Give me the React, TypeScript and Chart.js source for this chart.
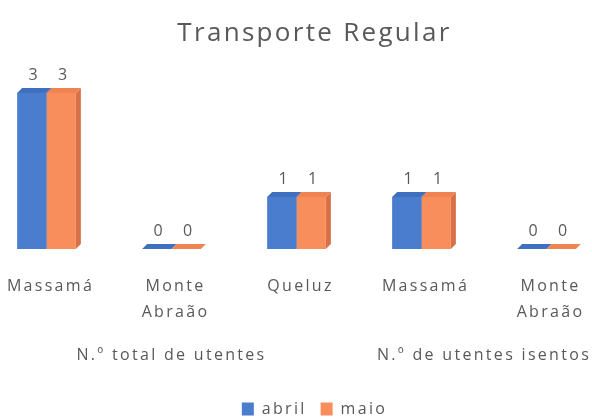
import { useEffect, useRef } from 'react';
import { Chart, registerables } from 'chart.js';

Chart.register(...registerables);

const TITLE = 'Transporte Regular';
const categories: string[][] = [['Massamá'], ['Monte', 'Abraão'], ['Queluz'], ['Massamá'], ['Monte', 'Abraão']];
const groupNames = ['N.º total de utentes', 'N.º de utentes isentos'];
const groupFirst = [0, 3];
const groupLast = [2, 4];
const seriesNames = ['abril', 'maio'];
const abril = [3, 0, 1, 1, 0];
const maio = [3, 0, 1, 1, 0];

const FONT = '"Open Sans", "DejaVu Sans", sans-serif';
const TEXT = '#595959';
const FRONT = ['#4a7dcd', '#f98e5d'];
const TOP = ['#3f70c0', '#f08352'];
const SIDE = ['#34609f', '#d8704a'];
const D = 5;
const SPACING = '2.3px';

const depthPlugin = {
  id: 'depth3d',
  beforeInit(chart: any) {
    chart.ctx.letterSpacing = SPACING;
  },
  beforeUpdate(chart: any) {
    chart.ctx.letterSpacing = SPACING;
  },
  beforeDraw(chart: any) {
    chart.ctx.letterSpacing = SPACING;
  },
  beforeDatasetsDraw(chart: any) {
    const ctx = chart.ctx;
    const n = chart.data.labels.length;
    ctx.save();
    for (let i = 0; i < n; i++) {
      chart.data.datasets.forEach((_ds: any, di: number) => {
        const el = chart.getDatasetMeta(di).data[i];
        if (!el) return;
        const { x, y, base, width } = el.getProps(['x', 'y', 'base', 'width'], true);
        const l = x - width / 2;
        const r = x + width / 2;
        ctx.fillStyle = SIDE[di];
        ctx.beginPath();
        ctx.moveTo(r, y);
        ctx.lineTo(r + D, y - D);
        ctx.lineTo(r + D, base - D);
        ctx.lineTo(r, base);
        ctx.closePath();
        ctx.fill();
        ctx.fillStyle = TOP[di];
        ctx.beginPath();
        ctx.moveTo(l, y);
        ctx.lineTo(l + D, y - D);
        ctx.lineTo(r + D, y - D);
        ctx.lineTo(r, y);
        ctx.closePath();
        ctx.fill();
      });
    }
    ctx.restore();
  },
  afterDatasetsDraw(chart: any) {
    const ctx = chart.ctx;
    ctx.save();
    ctx.letterSpacing = SPACING;
    ctx.font = `16px ${FONT}`;
    ctx.fillStyle = TEXT;
    ctx.textAlign = 'center';
    ctx.textBaseline = 'middle';
    chart.data.datasets.forEach((ds: any, di: number) => {
      chart.getDatasetMeta(di).data.forEach((el: any, i: number) => {
        const { x, y } = el.getProps(['x', 'y'], true);
        ctx.fillText(String(ds.data[i]), x + D / 2, y - 18);
      });
    });
    const xs = chart.scales.x;
    ctx.font = `16px ${FONT}`;
    groupNames.forEach((g, gi) => {
      const cx = (xs.getPixelForValue(groupFirst[gi]) + xs.getPixelForValue(groupLast[gi])) / 2;
      ctx.fillText(g, cx, chart.chartArea.bottom + 106);
    });
    ctx.restore();
  },
};

export default function App() {
  const ref = useRef<HTMLCanvasElement>(null);
  useEffect(() => {
    if (!ref.current) return;
    const chart = new Chart(ref.current, {
      type: 'bar',
      data: {
        labels: categories,
        datasets: [
          { label: seriesNames[0], data: abril, backgroundColor: FRONT[0], borderWidth: 0 },
          { label: seriesNames[1], data: maio, backgroundColor: FRONT[1], borderWidth: 0 },
        ],
      },
      options: {
        responsive: false,
        animation: false,
        layout: { padding: 0, autoPadding: false },
        datasets: { bar: { categoryPercentage: 0.47, barPercentage: 1 } },
        plugins: {
          title: {
            display: true,
            text: TITLE,
            color: TEXT,
            font: { family: FONT, size: 26, weight: 'normal' },
            padding: { top: 18, bottom: 43.8 },
          },
          legend: {
            position: 'bottom',
            labels: { boxWidth: 12, boxHeight: 13, color: TEXT, font: { family: FONT, size: 16 }, padding: 14 },
          },
          tooltip: { enabled: false },
        },
        scales: {
          x: {
            grid: { display: false, drawTicks: false },
            border: { display: false },
            ticks: {
              color: TEXT,
              font: { family: FONT, size: 16, lineHeight: 1.65 },
              padding: 24,
              labelOffset: 4,
              maxRotation: 0,
              autoSkip: false,
            },
            afterFit: (s: any) => {
              s.height = 138;
              s.paddingLeft = 0;
              s.paddingRight = 0;
            },
          },
          y: {
            position: 'right',
            min: 0,
            max: 3,
            ticks: { display: false },
            grid: { display: false },
            border: { display: false },
            afterFit: (s: any) => {
              s.width = 36;
              s.paddingTop = 0;
              s.paddingBottom = 0;
            },
          },
        },
      } as any,
      plugins: [depthPlugin],
    });
    return () => chart.destroy();
  }, []);
  return (
    <div style={{ position: 'fixed', left: 0, top: 0, width: 592, height: 417, overflow: 'hidden', background: '#fff' }}>
      <canvas ref={ref} width={661} height={427} style={{ position: 'absolute', left: -16, top: 0 }} />
    </div>
  );
}
